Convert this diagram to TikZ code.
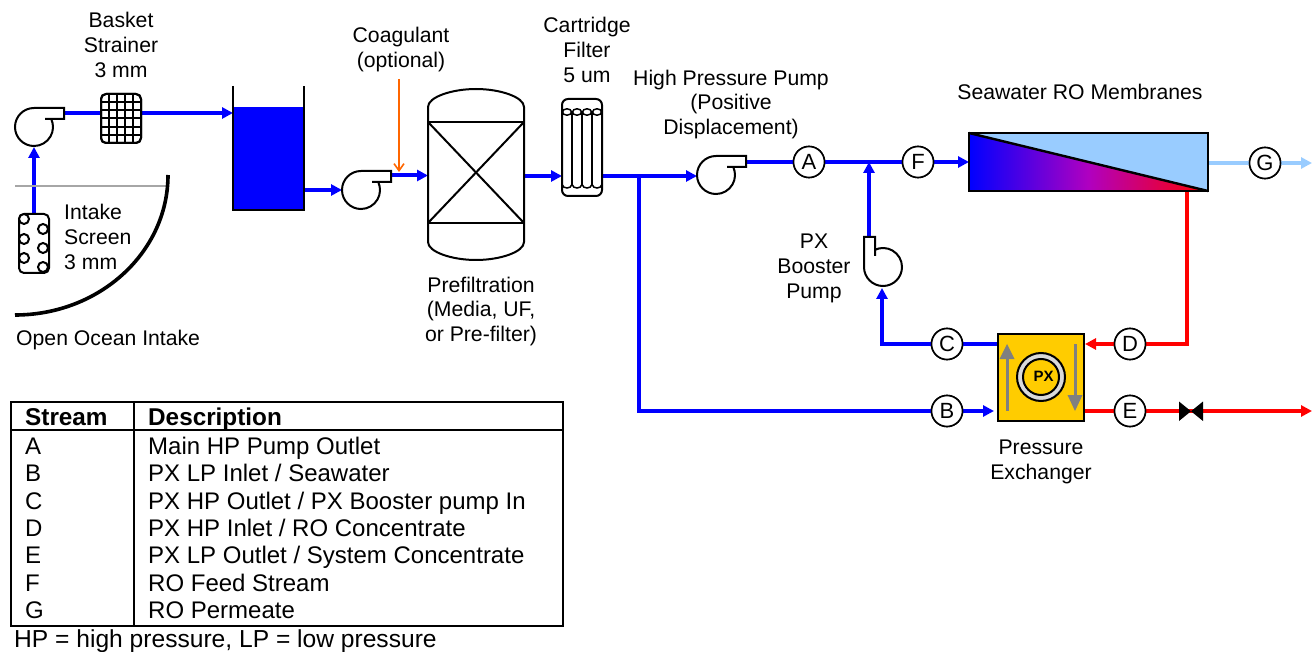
\documentclass[tikz,border=0pt]{standalone}
\usepackage{fontspec}
\setmainfont{Liberation Sans}
\usetikzlibrary{arrows.meta}
\definecolor{pipeblue}{HTML}{0000FF}
\definecolor{pipered}{HTML}{FF0000}
\definecolor{pipepale}{HTML}{99CCFF}
\definecolor{pxgold}{HTML}{FFCC00}
\definecolor{dose}{HTML}{FF6600}
\definecolor{midgrey}{HTML}{808080}
\definecolor{gradmid}{HTML}{B000C0}
\tikzset{
  x=1pt,y=-1pt,
  pipe/.style={line width=4pt},
  flow/.style={pipe,-{Triangle[length=11pt,width=11pt]}},
  blue pipe/.style={pipe,draw=pipeblue},
  blue flow/.style={flow,draw=pipeblue,color=pipeblue},
  red pipe/.style={pipe,draw=pipered},
  red flow/.style={flow,draw=pipered,color=pipered},
  pale pipe/.style={pipe,draw=pipepale},
  pale flow/.style={flow,draw=pipepale,color=pipepale},
  eqline/.style={draw=black,line width=2pt},
  stream/.style={circle,draw=black,fill=white,line width=1.6pt,minimum size=31pt,inner sep=0pt,font=\fontsize{22}{24}\selectfont},
  port/.style={circle,minimum size=38pt,inner sep=0pt},
  lbl/.style={inner sep=0pt,align=center,font=\fontsize{21.2}{24.6}\selectfont},
  lbll/.style={inner sep=0pt,align=left,font=\fontsize{21.2}{24.6}\selectfont},
  cell/.style={inner sep=0pt,anchor=base west,font=\fontsize{24}{27}\selectfont},
  cellb/.style={inner sep=0pt,anchor=base west,font=\fontsize{24.3}{27}\selectfont\bfseries},
  pumppic/.pic={\draw[eqline,fill=white] (11,-8)--(30,-8)--(30,-19)--(0,-19) arc[start angle=90,end angle=385,radius=19pt];}
}
\begin{document}
\begin{tikzpicture}
\useasboundingbox (0,0) rectangle (1312,652);
% anchors
\node[port] (pump1) at (34,127) {};
\node[port] (pump2) at (361,190) {};
\node[port] (pump3) at (716,175) {};
\node[port] (pump4) at (883,267) {};
\coordinate (p1out) at (64,113);
\coordinate (p2out) at (390,175.5);
\coordinate (p3out) at (745,162);
\coordinate (p4out) at (869,238);
\coordinate (tankin) at (233,113);
\coordinate (tankout) at (304,190);
\coordinate (screentop) at (34,214);
\coordinate (vesselin) at (428,175.5);
\coordinate (vesselout) at (524,176);
\coordinate (cartin) at (562,176);
\coordinate (cartout) at (602,176);
\coordinate (split) at (638.5,176);
\coordinate (splitb) at (638.5,411);
\coordinate (hpin) at (697,176);
\coordinate (junction) at (869,162);
\coordinate (memin) at (969,162);
\coordinate (memout) at (1208,163);
\coordinate (memconc) at (1187,191);
\coordinate (concbend) at (1187,344);
\coordinate (cbend) at (882,344);
\coordinate (pxbin) at (994,411);
\coordinate (pxcout) at (998,344);
\coordinate (pxdin) at (1085,344);
\coordinate (pxeout) at (1084,411);
\coordinate (gend) at (1312,163);
\coordinate (eend) at (1312,411);
\coordinate (dosetop) at (399,79);
\coordinate (dosetip) at (399,172);
\coordinate (valve) at (1191,411);
\node[stream] (A) at (809,162) {A};
\node[stream] (B) at (947,411) {B};
\node[stream] (C) at (947,344) {C};
\node[stream] (D) at (1130,344) {D};
\node[stream] (E) at (1130,411) {E};
\node[stream] (F) at (918,162) {F};
\node[stream] (G) at (1265,163) {G};
% piping
\draw[blue flow] (screentop) -- (34,147);
\draw[blue flow] (p1out) -- (tankin);
\draw[blue flow] (tankout) -- (342,190);
\draw[blue flow] (p2out) -- (vesselin);
\draw[blue flow] (vesselout) -- (cartin);
\draw[blue flow] (cartout) -- (hpin);
\draw[blue pipe] (split) -- (splitb) -- (B);
\draw[blue flow] (B) -- (pxbin);
\draw[blue pipe] (p3out) -- (A);
\draw[blue pipe] (A) -- (F);
\draw[blue flow] (F) -- (memin);
\draw[blue flow] (p4out) -- (junction);
\draw[blue flow] (C) -- (cbend) -- (882,288);
\draw[blue pipe] (C) -- (pxcout);
\draw[red pipe] (memconc) -- (concbend) -- (D);
\draw[red flow] (D) -- (pxdin);
\draw[red pipe] (pxeout) -- (E);
\draw[red pipe] (E) -- (valve);
\draw[red flow] (valve) -- (eend);
\draw[pale pipe] (memout) -- (G);
\draw[pale flow] (G) -- (gend);
\node[stream] at (A) {A};
\node[stream] at (B) {B};
\node[stream] at (C) {C};
\node[stream] at (D) {D};
\node[stream] at (E) {E};
\node[stream] at (F) {F};
\node[stream] at (G) {G};
\draw[draw=dose,line width=1.6pt,-{Straight Barb[length=7pt,width=10pt]}] (dosetop) -- (dosetip);
% pumps
\path (pump1) pic {pumppic};
\path (pump2) pic {pumppic};
\path (pump3) pic {pumppic};
\path (pump4) pic[rotate=90] {pumppic};
% ocean
\draw[draw=black!35,line width=2pt] (15,186) -- (168,186);
\draw[black,line width=3.6pt] (168,175) arc[start angle=0,end angle=-90,x radius=153pt,y radius=140pt];
% screen
\draw[eqline,fill=white,rounded corners=5pt] (19,214) rectangle (49,273);
\foreach \hx/\hy in {24/219,43/229,24/239,43/248,24/258,43/267}
  \draw[eqline,fill=white] (\hx,\hy) circle[radius=5pt];
% strainer
\draw[eqline,fill=white,rounded corners=5pt] (101,94) rectangle (141,143);
\foreach \gx in {109,117,125,133} \draw[black,line width=1.5pt] (\gx,94) -- (\gx,143);
\foreach \gy in {102,110,118,127,135} \draw[black,line width=1.5pt] (101,\gy) -- (141,\gy);
\draw[eqline,rounded corners=5pt] (101,94) rectangle (141,143);
% tank
\fill[pipeblue] (233,107) rectangle (304,210);
\draw[black,line width=1.6pt] (233,86) -- (233,210) -- (304,210) -- (304,86);
% vessel
\draw[eqline,fill=white] (428,107) .. controls (428,97) and (452,89) .. (476,89) .. controls (500,89) and (524,97) .. (524,107) -- (524,242) .. controls (524,252) and (500,260) .. (476,260) .. controls (452,260) and (428,252) .. (428,242) -- cycle;
\draw[eqline] (428,122) -- (524,122);
\draw[eqline] (428,223) -- (524,223);
\draw[eqline] (428,122) -- (524,223);
\draw[eqline] (524,122) -- (428,223);
% cartridge
\draw[eqline,fill=white,rounded corners=6pt] (562,99) rectangle (602,196);
\foreach \tx in {572,582,592} \draw[black,line width=1.5pt] (\tx,112) -- (\tx,185);
\foreach \tx in {567,577,587,597} {
  \draw[black,line width=1.5pt,fill=white] (\tx,112) ellipse[x radius=4.5pt,y radius=3.2pt];
  \draw[black,line width=1.5pt] (\tx-4.5,185) arc[start angle=180,end angle=360,x radius=4.5pt,y radius=3pt];
}
% membrane
\shade[left color=pipeblue,right color=pipered,middle color=gradmid] (969,133) -- (1208,191) -- (969,191) -- cycle;
\fill[pipepale] (969,133) -- (1208,133) -- (1208,191) -- cycle;
\draw[black,line width=2.4pt] (969,133) rectangle (1208,191);
\draw[black,line width=2.4pt] (969,133) -- (1208,191);
% PX
\draw[black,line width=2pt,fill=pxgold] (998,334) rectangle (1084,421);
\draw[black,line width=2pt,fill=black!15] (1041,377) circle[radius=24pt];
\draw[black,line width=2pt,fill=pxgold] (1041,377) circle[radius=18pt];
\node[inner sep=0pt,font=\fontsize{15}{16}\selectfont\bfseries] (pxtext) at (1043.5,376.5) {PX};
\fill[midgrey] (1005.5,411) rectangle (1008.5,358);
\fill[midgrey] (999.5,359) -- (1007,344) -- (1014.5,359) -- cycle;
\fill[midgrey] (1073.5,344) rectangle (1076.5,396);
\fill[midgrey] (1067.5,395) -- (1075,411) -- (1082.5,395) -- cycle;
% valve
\fill[black] (1179,401.5) -- (1203,421) -- (1203,401.5) -- (1179,421) -- cycle;
% labels
\node[lbl] (l1) at (121,45) {Basket\\Strainer\\3 mm};
\node[lbl] (l2) at (401,49.5) {Coagulant\\(optional)};
\node[lbl] (l3) at (587,50) {Cartridge\\Filter\\5 um};
\node[lbl] (l4) at (731,104.5) {High Pressure Pump\\(Positive\\Displacement)};
\node[lbl] (l5) at (1080,92) {Seawater RO Membranes};
\node[lbl] (l6) at (814,268.5) {PX\\Booster\\Pump};
\node[lbll,anchor=west] (l7) at (64,237) {Intake\\Screen\\3 mm};
\node[lbll,anchor=base west] (l8) at (16,345) {Open Ocean Intake};
\node[lbl] (l9) at (481,311.5) {Prefiltration\\(Media, UF,\\or Pre-filter)};
\node[lbl] (l10) at (1041,462) {Pressure\\Exchanger};
% table
\draw[black,line width=1.7pt] (11,402) rectangle (563,626);
\draw[black,line width=1.7pt] (11,430) -- (563,430);
\draw[black,line width=1.7pt] (134,402) -- (134,626);
\node[cellb] (th1) at (25,425) {Stream};
\node[cellb] (th2) at (148,425) {Description};
\node[cell] (r1) at (25,454) {A};
\node[cell] (d1) at (148,454) {Main HP Pump Outlet};
\node[cell] (r2) at (25,481) {B};
\node[cell] (d2) at (148,481) {PX LP Inlet / Seawater};
\node[cell] (r3) at (25,509) {C};
\node[cell] (d3) at (148,509) {PX HP Outlet / PX Booster pump In};
\node[cell] (r4) at (25,536) {D};
\node[cell] (d4) at (148,536) {PX HP Inlet / RO Concentrate};
\node[cell] (r5) at (25,563) {E};
\node[cell] (d5) at (148,563) {PX LP Outlet / System Concentrate};
\node[cell] (r6) at (25,591) {F};
\node[cell] (d6) at (148,591) {RO Feed Stream};
\node[cell] (r7) at (25,618) {G};
\node[cell] (d7) at (148,618) {RO Permeate};
\node[cell,font=\fontsize{24.6}{27}\selectfont] (note) at (14,647) {HP = high pressure, LP = low pressure};
\end{tikzpicture}
\end{document}
